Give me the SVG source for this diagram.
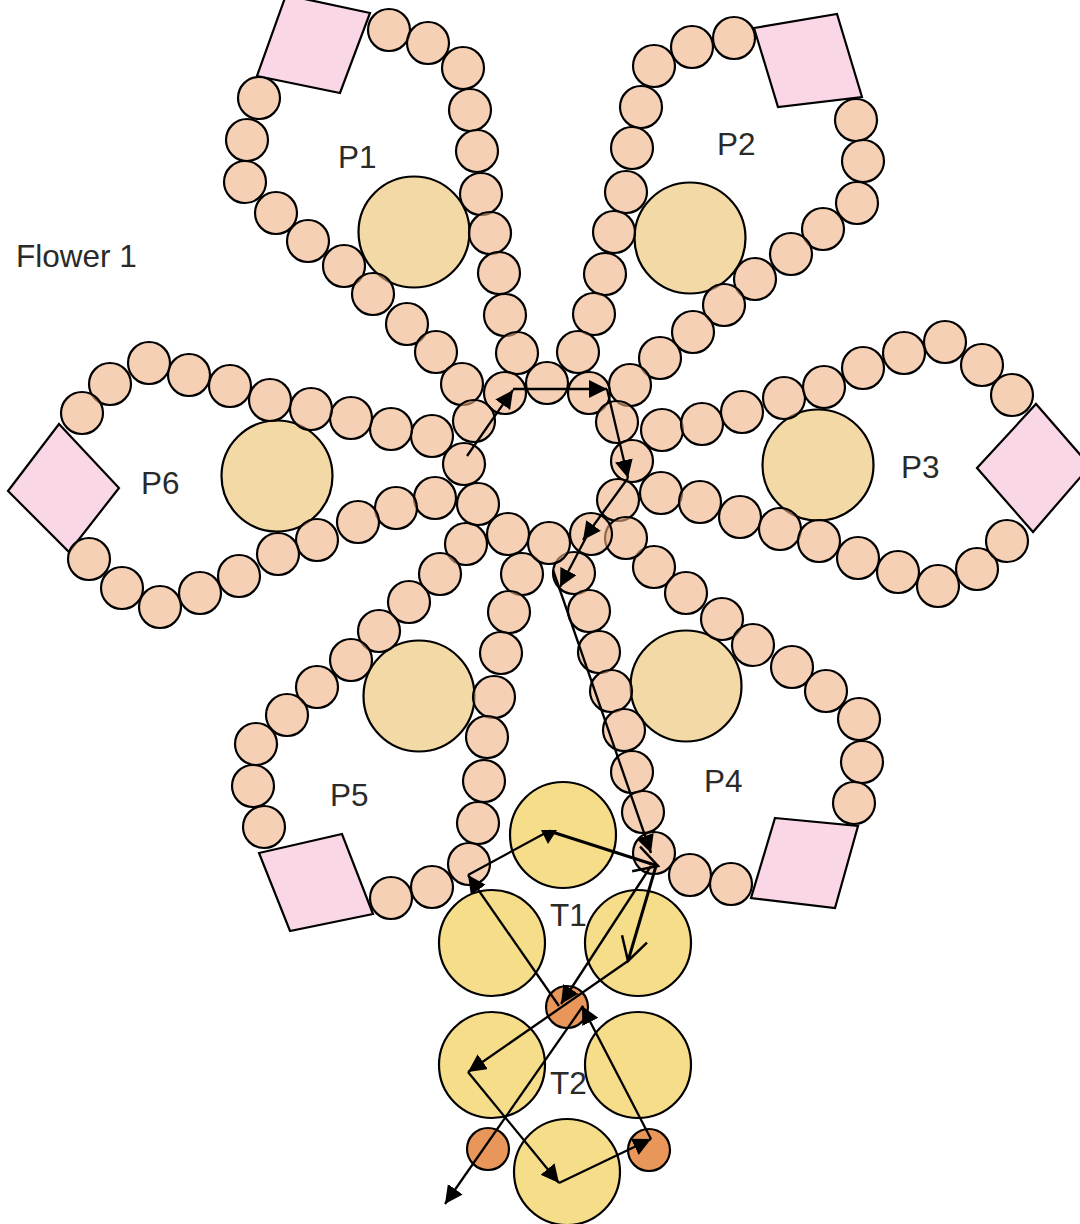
<svg xmlns="http://www.w3.org/2000/svg" width="1080" height="1224" viewBox="0 0 1080 1224">
<style>
.b{fill:#efb083;fill-opacity:.6;stroke:#000;stroke-width:2.2}
.l{fill:#f3d9a6;stroke:#000;stroke-width:2.2}
.t{fill:#f5dd8a;stroke:#000;stroke-width:2.2}
.o{fill:#e8965a;stroke:#000;stroke-width:2.2}
.p{fill:#fad7e6;stroke:#000;stroke-width:2.2}
text{font-family:"Liberation Sans",Arial,sans-serif;font-size:31.5px;fill:#2a2a2a}
.c line{stroke:#000;stroke-width:2.3;fill:none;marker-end:url(#a)}
.c line.k{stroke-width:3}
.c line.v{marker-end:url(#v)}
.c line.n{marker-end:none}
</style>
<defs>
<marker id="a" markerUnits="userSpaceOnUse" markerWidth="20" markerHeight="20" refX="18" refY="9" orient="auto"><path d="M0 0L18 9L0 18Z" fill="#000"/></marker>
<marker id="v" markerUnits="userSpaceOnUse" markerWidth="30" markerHeight="40" refX="25" refY="20" orient="auto"><path d="M2 7L25 20L2 33" fill="none" stroke="#000" stroke-width="2.5"/></marker>
</defs>
<text x="16" y="267">Flower 1</text>
<g id="petal-p1">
<polygon class="p" points="257,76 340,93 370,13 286,-5"/>
<circle class="l" cx="414" cy="232" r="55.5"/>
<circle class="b" cx="389" cy="30" r="21"/><circle class="b" cx="428" cy="43" r="21"/><circle class="b" cx="463" cy="68" r="21"/><circle class="b" cx="470" cy="110" r="21"/><circle class="b" cx="477" cy="151" r="21"/><circle class="b" cx="481" cy="194" r="21"/><circle class="b" cx="490" cy="233" r="21"/><circle class="b" cx="499" cy="273" r="21"/><circle class="b" cx="505" cy="315" r="21"/><circle class="b" cx="517" cy="353" r="21"/>
<circle class="b" cx="259" cy="98" r="21"/><circle class="b" cx="247" cy="140" r="21"/><circle class="b" cx="245" cy="182" r="21"/><circle class="b" cx="276" cy="213" r="21"/><circle class="b" cx="308" cy="241" r="21"/><circle class="b" cx="344" cy="266" r="21"/><circle class="b" cx="373" cy="294" r="21"/><circle class="b" cx="407" cy="324" r="21"/><circle class="b" cx="436" cy="352" r="21"/><circle class="b" cx="462" cy="384" r="21"/>
<text x="338" y="168">P1</text>
</g>
<g id="petal-p2">
<polygon class="p" points="754,28 837,14 862,97 778,107"/>
<circle class="l" cx="690" cy="238" r="55.5"/>
<circle class="b" cx="734" cy="38" r="21"/><circle class="b" cx="692" cy="47" r="21"/><circle class="b" cx="654" cy="66" r="21"/><circle class="b" cx="641" cy="107" r="21"/><circle class="b" cx="632" cy="148" r="21"/><circle class="b" cx="626" cy="192" r="21"/><circle class="b" cx="614" cy="232" r="21"/><circle class="b" cx="605" cy="274" r="21"/><circle class="b" cx="594" cy="314" r="21"/><circle class="b" cx="578" cy="352" r="21"/>
<circle class="b" cx="856" cy="120" r="21"/><circle class="b" cx="863" cy="161" r="21"/><circle class="b" cx="857" cy="203" r="21"/><circle class="b" cx="823" cy="229" r="21"/><circle class="b" cx="791" cy="254" r="21"/><circle class="b" cx="755" cy="279" r="21"/><circle class="b" cx="724" cy="305" r="21"/><circle class="b" cx="693" cy="332" r="21"/><circle class="b" cx="660" cy="358" r="21"/><circle class="b" cx="630" cy="385" r="21"/>
<text x="717" y="155">P2</text>
</g>
<g id="petal-p3">
<polygon class="p" points="977,468 1036,404 1090,466 1033,532"/>
<circle class="l" cx="818" cy="465" r="55.5"/>
<circle class="b" cx="662" cy="430" r="21"/><circle class="b" cx="702" cy="424" r="21"/><circle class="b" cx="742" cy="412" r="21"/><circle class="b" cx="784" cy="398" r="21"/><circle class="b" cx="824" cy="387" r="21"/><circle class="b" cx="863" cy="368" r="21"/><circle class="b" cx="904" cy="353" r="21"/><circle class="b" cx="945" cy="342" r="21"/><circle class="b" cx="982" cy="365" r="21"/><circle class="b" cx="1012" cy="395" r="21"/>
<circle class="b" cx="661" cy="493" r="21"/><circle class="b" cx="700" cy="502" r="21"/><circle class="b" cx="740" cy="517" r="21"/><circle class="b" cx="780" cy="529" r="21"/><circle class="b" cx="819" cy="541" r="21"/><circle class="b" cx="858" cy="558" r="21"/><circle class="b" cx="898" cy="572" r="21"/><circle class="b" cx="938" cy="586" r="21"/><circle class="b" cx="977" cy="569" r="21"/><circle class="b" cx="1007" cy="541" r="21"/>
<text x="901" y="478">P3</text>
</g>
<g id="petal-p4">
<polygon class="p" points="775,818 858,826 835,908 751,898"/>
<circle class="l" cx="686" cy="686" r="55.5"/>
<circle class="b" cx="654" cy="567" r="21"/><circle class="b" cx="686" cy="593" r="21"/><circle class="b" cx="722" cy="619" r="21"/><circle class="b" cx="753" cy="645" r="21"/><circle class="b" cx="792" cy="667" r="21"/><circle class="b" cx="826" cy="691" r="21"/><circle class="b" cx="859" cy="719" r="21"/><circle class="b" cx="862" cy="762" r="21"/><circle class="b" cx="854" cy="803" r="21"/>
<circle class="b" cx="574" cy="573" r="21"/><circle class="b" cx="589" cy="611" r="21"/><circle class="b" cx="599" cy="652" r="21"/><circle class="b" cx="611" cy="691" r="21"/><circle class="b" cx="624" cy="730" r="21"/><circle class="b" cx="632" cy="772" r="21"/><circle class="b" cx="643" cy="812" r="21"/><circle class="b" cx="654" cy="853" r="21"/><circle class="b" cx="690" cy="875" r="21"/><circle class="b" cx="731" cy="884" r="21"/>
<text x="704" y="792">P4</text>
</g>
<g id="petal-p5">
<polygon class="p" points="259,853 342,834 373,914 290,931"/>
<circle class="l" cx="419" cy="696" r="55.5"/>
<circle class="b" cx="522" cy="574" r="21"/><circle class="b" cx="509" cy="612" r="21"/><circle class="b" cx="501" cy="653" r="21"/><circle class="b" cx="494" cy="697" r="21"/><circle class="b" cx="487" cy="737" r="21"/><circle class="b" cx="484" cy="781" r="21"/><circle class="b" cx="478" cy="823" r="21"/><circle class="b" cx="469" cy="864" r="21"/><circle class="b" cx="432" cy="887" r="21"/><circle class="b" cx="391" cy="898" r="21"/>
<circle class="b" cx="466" cy="544" r="21"/><circle class="b" cx="440" cy="574" r="21"/><circle class="b" cx="409" cy="602" r="21"/><circle class="b" cx="379" cy="631" r="21"/><circle class="b" cx="351" cy="660" r="21"/><circle class="b" cx="317" cy="687" r="21"/><circle class="b" cx="287" cy="715" r="21"/><circle class="b" cx="256" cy="744" r="21"/><circle class="b" cx="253" cy="786" r="21"/><circle class="b" cx="264" cy="827" r="21"/>
<text x="330" y="806">P5</text>
</g>
<g id="petal-p6">
<polygon class="p" points="59,424 119,488 69,552 8,491"/>
<circle class="l" cx="277" cy="476" r="55.5"/>
<circle class="b" cx="432" cy="436" r="21"/><circle class="b" cx="391" cy="429" r="21"/><circle class="b" cx="351" cy="418" r="21"/><circle class="b" cx="311" cy="409" r="21"/><circle class="b" cx="270" cy="400" r="21"/><circle class="b" cx="230" cy="386" r="21"/><circle class="b" cx="189" cy="375" r="21"/><circle class="b" cx="149" cy="363" r="21"/><circle class="b" cx="110" cy="384" r="21"/><circle class="b" cx="82" cy="413" r="21"/>
<circle class="b" cx="435" cy="498" r="21"/><circle class="b" cx="396" cy="508" r="21"/><circle class="b" cx="358" cy="522" r="21"/><circle class="b" cx="317" cy="540" r="21"/><circle class="b" cx="278" cy="554" r="21"/><circle class="b" cx="239" cy="576" r="21"/><circle class="b" cx="200" cy="593" r="21"/><circle class="b" cx="160" cy="607" r="21"/><circle class="b" cx="122" cy="588" r="21"/><circle class="b" cx="89" cy="559" r="21"/>
<text x="141" y="494">P6</text>
</g>
<g id="center-ring">
<circle class="b" cx="505" cy="393" r="21"/><circle class="b" cx="547" cy="383" r="21"/><circle class="b" cx="589" cy="393" r="21"/><circle class="b" cx="617" cy="422" r="21"/><circle class="b" cx="632" cy="461" r="21"/><circle class="b" cx="618" cy="500" r="21"/><circle class="b" cx="626" cy="538" r="21"/><circle class="b" cx="591" cy="534" r="21"/><circle class="b" cx="549" cy="543" r="21"/><circle class="b" cx="508" cy="534" r="21"/><circle class="b" cx="478" cy="504" r="21"/><circle class="b" cx="464" cy="464" r="21"/><circle class="b" cx="474" cy="421" r="21"/>
</g>
<g id="tepals-t1">
<circle class="t" cx="563" cy="835" r="53"/><circle class="t" cx="492" cy="943" r="53"/><circle class="t" cx="638" cy="943" r="53"/>
<text x="550" y="926">T1</text>
</g>
<g id="tepals-t2">
<circle class="t" cx="492" cy="1065" r="53"/><circle class="t" cx="638" cy="1065" r="53"/><circle class="t" cx="567" cy="1172" r="53"/>
<text x="550" y="1094">T2</text>
</g>
<g id="anther-1"><circle class="o" cx="567" cy="1007" r="21"/></g>
<g id="anther-2"><circle class="o" cx="488" cy="1149" r="21"/></g>
<g id="anther-3"><circle class="o" cx="649" cy="1150" r="21"/></g>
<g id="connectors" class="c">
<line x1="467" y1="456" x2="513" y2="390"/>
<line x1="513" y1="389" x2="607" y2="389"/>
<line x1="607" y1="389" x2="628" y2="478"/>
<line x1="628" y1="478" x2="583" y2="540"/>
<line x1="590" y1="530" x2="560" y2="587"/>
<line x1="553" y1="570" x2="651" y2="853"/>
<line class="k v" x1="549" y1="831" x2="658" y2="866"/>
<line class="n" x1="549" y1="831" x2="468" y2="875"/>
<polygon points="541,830 557,830 548,844" fill="#000"/>
<line x1="559" y1="1006" x2="468" y2="875"/>
<line x1="651" y1="866" x2="561" y2="1004"/>
<line class="k v" x1="656" y1="866" x2="628" y2="961"/>
<line x1="628" y1="961" x2="468" y2="1072"/>
<line x1="468" y1="1072" x2="559" y2="1183"/>
<line x1="559" y1="1183" x2="651" y2="1139"/>
<line x1="651" y1="1139" x2="582" y2="1006"/>
<line x1="583" y1="1006" x2="445" y2="1204"/>
</g>
</svg>
